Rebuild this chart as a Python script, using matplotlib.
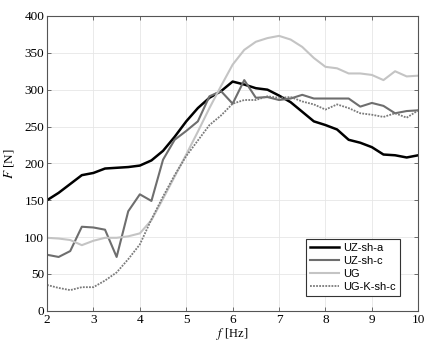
import matplotlib.pyplot as plt

freq = [2.0, 2.25, 2.5, 2.75, 3.0, 3.25, 3.5, 3.75, 4.0, 4.25, 4.5, 4.75, 5.0,
        5.25, 5.5, 5.75, 6.0, 6.25, 6.5, 6.75, 7.0, 7.25, 7.5, 7.75, 8.0,
        8.25, 8.5, 8.75, 9.0, 9.25, 9.5, 9.75, 10.0]

uz_sh_a = [150, 160, 172, 184, 187, 193, 194, 195, 197, 204, 217, 236, 257,
           275, 289, 298, 311, 307, 302, 300, 292, 283, 270, 257, 252,
           246, 232, 228, 222, 212, 211, 208, 211]
uz_sh_c = [76, 73, 81, 114, 113, 110, 73, 135, 158, 149, 205, 232, 244,
           257, 291, 298, 281, 313, 289, 290, 286, 288, 293, 288, 288,
           288, 288, 277, 282, 278, 268, 271, 272]
ug = [99, 98, 96, 89, 95, 99, 99, 101, 105, 123, 152, 182, 212,
      243, 275, 305, 334, 354, 365, 370, 373, 368, 358, 343, 331,
      329, 322, 322, 320, 313, 325, 318, 319]
ug_k_sh_c = [35, 31, 28, 32, 32, 41, 52, 70, 90, 124, 155, 184, 210,
             231, 252, 265, 281, 286, 286, 291, 289, 290, 284, 280, 273,
             280, 275, 268, 266, 263, 268, 262, 272]

serif = 'Liberation Serif'
sans = 'Liberation Sans'
plt.rcParams['mathtext.fontset'] = 'stix'

fig = plt.figure(figsize=(4.29, 3.40), dpi=100)
ax = fig.add_axes([0.1096, 0.0860, 0.8654, 0.8670])

ax.plot(freq, uz_sh_a, color='black', lw=1.8, label='UZ-sh-a')
ax.plot(freq, uz_sh_c, color='#6e6e6e', lw=1.5, label='UZ-sh-c')
ax.plot(freq, ug, color='#c4c4c4', lw=1.5, label='UG')
ax.plot(freq, ug_k_sh_c, color='#7a7a7a', lw=1.3, ls=(0, (1.0, 0.7)), label='UG-K-sh-c')

ax.set_xlim(2, 10)
ax.set_ylim(0, 400)
ax.set_xticks(range(2, 11))
ax.set_yticks(range(0, 401, 50))
ax.grid(True, color='#e6e6e6', lw=0.6)
ax.set_axisbelow(True)
ax.tick_params(direction='in', top=True, right=True, length=3, width=0.6,
               color='#555555', labelsize=9.5, pad=2)
for lab in ax.get_xticklabels() + ax.get_yticklabels():
    lab.set_fontfamily(serif)
for s in ax.spines.values():
    s.set_color('#555555')
    s.set_linewidth(0.8)

ax.set_xlabel(r'$f$ [Hz]', family=serif, fontsize=9, labelpad=0)
ax.set_ylabel(r'$F$ [N]', family=serif, fontsize=9.5, labelpad=6)

leg = ax.legend(loc='lower right', bbox_to_anchor=(0.95, 0.05), fancybox=False,
                edgecolor='#333333', framealpha=1, borderaxespad=0,
                prop={'family': sans, 'size': 8}, handlelength=2.6,
                handletextpad=0.3, labelspacing=0.25, borderpad=0.4)
leg.get_frame().set_linewidth(0.8)

fig.savefig('out.png', dpi=100)
